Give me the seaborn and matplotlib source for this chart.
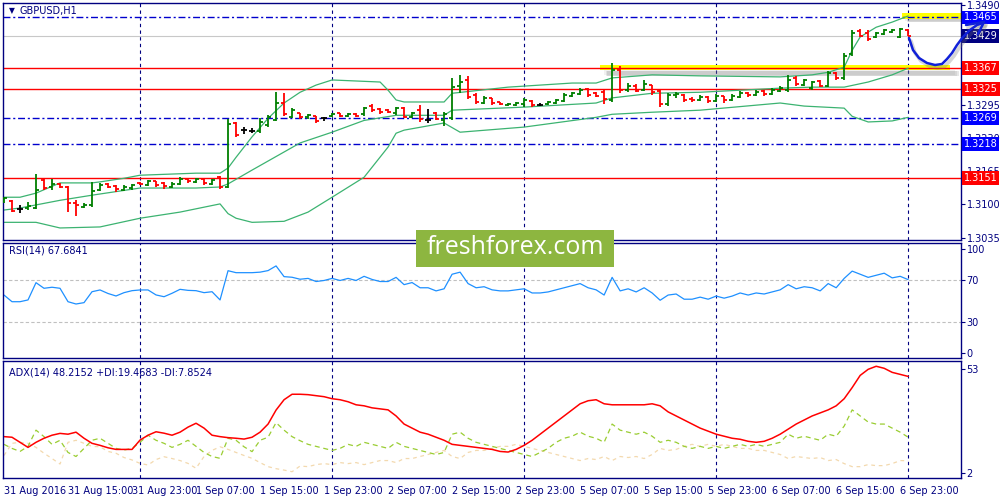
import numpy as np
import matplotlib
matplotlib.use("Agg")
import matplotlib.pyplot as plt
import seaborn as sns
from matplotlib.patches import Rectangle, FancyBboxPatch
from matplotlib.lines import Line2D

sns.set_style("white")
plt.rcParams['font.family'] = ['DejaVu Sans']

# hourly bars, 31 Aug 07:00 .. 7 Sep 00:00
x_labels = ['31 Aug 2016', '31 Aug 15:00', '31 Aug 23:00', '1 Sep 07:00', '1 Sep 15:00',
            '1 Sep 23:00', '2 Sep 07:00', '2 Sep 15:00', '2 Sep 23:00', '5 Sep 07:00',
            '5 Sep 15:00', '5 Sep 23:00', '6 Sep 07:00', '6 Sep 15:00', '6 Sep 23:00']
day_starts = [17, 41, 65, 89, 113]

opens = [1.3106, 1.3106, 1.3091, 1.3093, 1.3093, 1.3147, 1.3134, 1.3140, 1.3134, 1.3103,
         1.3095, 1.3099, 1.3128, 1.3140, 1.3136, 1.3128, 1.3132, 1.3142, 1.3138, 1.3146,
         1.3142, 1.3134, 1.3140, 1.3149, 1.3144, 1.3149, 1.3140, 1.3153, 1.3134, 1.3259,
         1.3245, 1.3243, 1.3243, 1.3255, 1.3264, 1.3298, 1.3270, 1.3278, 1.3270, 1.3272,
         1.3268, 1.3272, 1.3278, 1.3272, 1.3276, 1.3276, 1.3292, 1.3286, 1.3284, 1.3278,
         1.3288, 1.3270, 1.3284, 1.3264, 1.3278, 1.3264, 1.3268, 1.3331, 1.3343, 1.3313,
         1.3298, 1.3308, 1.3300, 1.3294, 1.3294, 1.3296, 1.3302, 1.3294, 1.3296, 1.3298,
         1.3302, 1.3311, 1.3315, 1.3325, 1.3317, 1.3319, 1.3304, 1.3362, 1.3323, 1.3331,
         1.3323, 1.3333, 1.3321, 1.3296, 1.3313, 1.3313, 1.3306, 1.3304, 1.3309, 1.3302,
         1.3311, 1.3304, 1.3309, 1.3317, 1.3313, 1.3321, 1.3315, 1.3321, 1.3323, 1.3347,
         1.3333, 1.3327, 1.3341, 1.3331, 1.3356, 1.3347, 1.3394, 1.3439, 1.3435, 1.3427,
         1.3433, 1.3437, 1.3427, 1.3440]
highs = [1.3114, 1.3108, 1.3099, 1.3104, 1.3159, 1.3149, 1.3149, 1.3142, 1.3136, 1.3108,
         1.3103, 1.3144, 1.3142, 1.3142, 1.3138, 1.3138, 1.3140, 1.3144, 1.3147, 1.3146,
         1.3144, 1.3144, 1.3153, 1.3151, 1.3151, 1.3151, 1.3149, 1.3155, 1.3266, 1.3261,
         1.3251, 1.3249, 1.3268, 1.3274, 1.3319, 1.3317, 1.3288, 1.3278, 1.3276, 1.3272,
         1.3270, 1.3278, 1.3278, 1.3278, 1.3278, 1.3290, 1.3296, 1.3288, 1.3286, 1.3290,
         1.3290, 1.3280, 1.3294, 1.3286, 1.3280, 1.3280, 1.3347, 1.3353, 1.3351, 1.3317,
         1.3311, 1.3308, 1.3300, 1.3298, 1.3300, 1.3308, 1.3304, 1.3298, 1.3302, 1.3306,
         1.3317, 1.3319, 1.3327, 1.3327, 1.3319, 1.3323, 1.3376, 1.3370, 1.3337, 1.3335,
         1.3343, 1.3333, 1.3325, 1.3317, 1.3319, 1.3315, 1.3309, 1.3313, 1.3311, 1.3315,
         1.3311, 1.3315, 1.3321, 1.3319, 1.3323, 1.3323, 1.3327, 1.3331, 1.3353, 1.3351,
         1.3345, 1.3341, 1.3343, 1.3360, 1.3358, 1.3396, 1.3440, 1.3442, 1.3440, 1.3437,
         1.3442, 1.3442, 1.3444, 1.3442]
lows = [1.3103, 1.3085, 1.3083, 1.3089, 1.3091, 1.3128, 1.3128, 1.3132, 1.3085, 1.3077,
        1.3093, 1.3095, 1.3126, 1.3132, 1.3124, 1.3126, 1.3128, 1.3138, 1.3136, 1.3134,
        1.3130, 1.3132, 1.3138, 1.3142, 1.3142, 1.3138, 1.3138, 1.3130, 1.3132, 1.3231,
        1.3237, 1.3239, 1.3239, 1.3251, 1.3263, 1.3272, 1.3268, 1.3266, 1.3266, 1.3259,
        1.3263, 1.3270, 1.3270, 1.3270, 1.3270, 1.3272, 1.3280, 1.3276, 1.3278, 1.3274,
        1.3268, 1.3268, 1.3261, 1.3259, 1.3264, 1.3253, 1.3264, 1.3317, 1.3306, 1.3296,
        1.3296, 1.3294, 1.3294, 1.3292, 1.3292, 1.3290, 1.3290, 1.3292, 1.3294, 1.3296,
        1.3300, 1.3309, 1.3313, 1.3309, 1.3309, 1.3296, 1.3300, 1.3317, 1.3319, 1.3319,
        1.3321, 1.3313, 1.3290, 1.3292, 1.3308, 1.3300, 1.3300, 1.3302, 1.3298, 1.3300,
        1.3298, 1.3302, 1.3308, 1.3309, 1.3311, 1.3311, 1.3313, 1.3319, 1.3319, 1.3331,
        1.3331, 1.3323, 1.3329, 1.3329, 1.3343, 1.3343, 1.3390, 1.3427, 1.3419, 1.3425,
        1.3431, 1.3435, 1.3425, 1.3429]
closes = [1.3112, 1.3087, 1.3091, 1.3097, 1.3128, 1.3132, 1.3140, 1.3134, 1.3103, 1.3099,
          1.3099, 1.3126, 1.3138, 1.3134, 1.3130, 1.3134, 1.3138, 1.3140, 1.3146, 1.3138,
          1.3136, 1.3140, 1.3149, 1.3146, 1.3149, 1.3142, 1.3147, 1.3134, 1.3257, 1.3235,
          1.3245, 1.3243, 1.3261, 1.3270, 1.3298, 1.3276, 1.3284, 1.3270, 1.3274, 1.3263,
          1.3268, 1.3276, 1.3272, 1.3276, 1.3272, 1.3288, 1.3284, 1.3280, 1.3280, 1.3288,
          1.3270, 1.3278, 1.3266, 1.3264, 1.3266, 1.3276, 1.3329, 1.3339, 1.3309, 1.3300,
          1.3308, 1.3298, 1.3296, 1.3296, 1.3298, 1.3304, 1.3294, 1.3294, 1.3300, 1.3304,
          1.3313, 1.3317, 1.3323, 1.3313, 1.3311, 1.3306, 1.3362, 1.3323, 1.3331, 1.3321,
          1.3335, 1.3319, 1.3296, 1.3313, 1.3315, 1.3304, 1.3304, 1.3309, 1.3302, 1.3311,
          1.3304, 1.3311, 1.3317, 1.3313, 1.3319, 1.3315, 1.3323, 1.3327, 1.3343, 1.3335,
          1.3343, 1.3339, 1.3331, 1.3356, 1.3347, 1.3390, 1.3435, 1.3429, 1.3423, 1.3435,
          1.3440, 1.3440, 1.3442, 1.3429]

# Bollinger bands read at a few bars
upper_idx = [0, 2, 4, 7, 11, 12, 15, 17, 24, 27, 28, 29, 31, 33, 35, 37, 39, 41, 47, 48,
             49, 50, 55, 56, 63, 71, 74, 76, 81, 87, 97, 101, 103, 105, 106, 107, 109, 111, 113]
upper_val = [1.3114, 1.3114, 1.3122, 1.3142, 1.3142, 1.3144, 1.3151, 1.3157, 1.3161, 1.3161,
             1.3171, 1.3192, 1.3232, 1.3268, 1.3298, 1.3319, 1.3333, 1.3343, 1.3339, 1.3323,
             1.3304, 1.3300, 1.3300, 1.3317, 1.3329, 1.3337, 1.3337, 1.3347, 1.3353, 1.3351,
             1.3349, 1.3353, 1.3358, 1.3368, 1.3401, 1.3427, 1.3446, 1.3456, 1.3468]
mid_idx = [0, 2, 4, 7, 11, 17, 24, 27, 28, 31, 37, 41, 45, 49, 55, 56, 65, 74, 76, 81,
           87, 97, 101, 105, 108, 111, 113]
mid_val = [1.3089, 1.3093, 1.3099, 1.3108, 1.3118, 1.3132, 1.3132, 1.3134, 1.3140, 1.3167,
           1.3220, 1.3241, 1.3264, 1.3274, 1.3274, 1.3284, 1.3290, 1.3298, 1.3308, 1.3317,
           1.3319, 1.3327, 1.3329, 1.3329, 1.3339, 1.3353, 1.3366]
lower_idx = [0, 4, 7, 12, 17, 22, 27, 28, 29, 31, 35, 38, 41, 45, 48, 49, 50, 55, 57, 65,
             74, 76, 81, 87, 97, 100, 105, 106, 108, 111, 113]
lower_val = [1.3065, 1.3065, 1.3054, 1.3056, 1.3073, 1.3085, 1.3101, 1.3082, 1.3073, 1.3065,
             1.3067, 1.3085, 1.3114, 1.3153, 1.3212, 1.3239, 1.3245, 1.3259, 1.3241, 1.3251,
             1.3270, 1.3276, 1.3280, 1.3284, 1.3298, 1.3292, 1.3288, 1.3272, 1.3261, 1.3263,
             1.3270]

rsi = [56, 49.6, 49.6, 51.3, 67.9, 62.5, 63.5, 62.5, 49.6, 47.4,
       48.7, 59.2, 60.9, 57.5, 55.1, 58.3, 60.2, 60.9, 60.9, 56.1,
       54.4, 57.7, 61.5, 60.5, 60.2, 58.3, 59.2, 51.3, 79.4, 77.5,
       77.5, 77.5, 78, 79.5, 84, 73.7, 73.1, 71.2, 72, 69,
       70, 72, 70, 72, 70, 74, 71, 69, 69, 73,
       66, 68, 63, 63, 60, 62, 76, 78, 67, 63,
       64, 61, 60, 60, 61, 62, 58, 58, 59, 61,
       63, 65, 67, 63, 61, 56, 73, 60, 62, 59,
       63, 58, 51, 56, 57, 52, 52, 54, 52, 55,
       53, 55, 58, 56, 58, 57, 59, 61, 66, 62,
       64, 63, 60, 67, 63, 72, 79, 76, 73, 75,
       77, 72.5, 74, 70.8]
adx = [19.8, 19.5, 17, 14.5, 17, 19, 20.5, 21.4, 21, 22,
       19, 16.5, 15.5, 14.3, 13.5, 13.5, 13.5, 18.1, 20.5, 22.2,
       21.5, 20.5, 22, 24.5, 26.4, 24, 20.5, 19.8, 19.3, 19,
       18.6, 19.5, 22, 26, 32.9, 38, 40.7, 40.7, 40.5, 40,
       39.5, 38.5, 38, 37, 35.5, 35, 34, 33.5, 33, 30,
       26, 24, 22, 21, 19.5, 18, 16, 15.5, 15, 14.5,
       14, 13.5, 12.5, 12.2, 13.5, 15.5, 18, 21, 24, 27,
       30, 33, 36, 37.5, 38, 36, 35.5, 35.5, 35.5, 35.5,
       35.5, 36, 35, 32, 30, 28, 26, 24, 22.5, 21,
       20, 19, 18.5, 17.5, 17, 17.5, 19, 21, 23.5, 26,
       28, 30, 31.5, 33, 35, 38.5, 44, 50, 53, 54.5,
       53.5, 51.5, 50.5, 49.5]
plus_di = [16, 14, 12.5, 15, 23, 19.8, 16, 18, 12, 10,
           14, 18, 19, 16.5, 14, 13.2, 14, 17, 20.5, 18,
           16.5, 14.5, 16, 18, 15, 12, 10, 9.1, 19, 18,
           14.8, 12.4, 18, 19.5, 26.7, 23, 19.8, 17.8, 16, 15,
           14, 13, 14, 16, 15, 17, 16, 15, 14, 17,
           15, 14, 13, 12, 11, 12, 21, 22, 19, 17,
           16, 15, 14, 13, 12, 11, 10, 12, 14, 17,
           19, 20, 22, 20, 19, 17, 26, 23, 22, 21,
           22, 20, 17, 18, 17, 15, 14, 15, 14, 15,
           14, 15, 16, 15, 16, 15, 16, 17, 21, 19,
           20, 19, 18, 21, 20, 25, 33, 30, 27, 26,
           26, 24, 22, 19.5]
minus_di = [10.5, 16.5, 17, 16.5, 14.5, 11.6, 9, 6.3, 17, 18,
            16.5, 15, 14.8, 12.5, 11.6, 9.5, 8.3, 6.6, 5.8, 8.5,
            9.9, 9, 8, 6.6, 4.2, 10, 13, 14.8, 13.5, 12,
            10.5, 9.1, 7, 5, 4, 3.3, 2.5, 5.3, 5, 6,
            6.5, 6, 7, 6.5, 7, 6, 7, 8, 8, 7,
            9, 9, 10, 11, 12, 13, 10, 9, 12, 13,
            13, 14, 15, 15, 16, 15, 14, 13, 12, 11,
            10, 9, 8, 9, 8.5, 10, 8, 10, 9.5, 10,
            9, 11, 14, 13, 13.5, 15, 16, 15, 16, 15,
            16, 15, 14, 14, 13, 13, 12, 11, 9, 10,
            9.5, 9, 9.5, 8, 8.5, 6.5, 5, 5, 6, 5.5,
            5.5, 6.5, 8, 7.9]

red_levels = [1.3367, 1.3325, 1.3151]
blue_levels = [1.3465, 1.3269, 1.3218]
bid = 1.3429
price_ticks = [1.3490, 1.3425, 1.3360, 1.3295, 1.3230, 1.3165, 1.3100, 1.3035]
# labels that sit fully under a price tag are not shown
hidden_ticks = [1.3425, 1.3360]

NAVY = '#000080'
bars = np.arange(len(opens))

fig = plt.figure(figsize=(10, 5), dpi=100)
ax1 = fig.add_axes([0.003, 0.52, 0.958, 0.474])
ax2 = fig.add_axes([0.003, 0.284, 0.958, 0.231])
ax3 = fig.add_axes([0.003, 0.044, 0.958, 0.234])

for ax in (ax1, ax2, ax3):
    ax.set_xlim(-0.125, 119.6)
    for s in ax.spines.values():
        s.set_color(NAVY)
        s.set_linewidth(1)
    ax.yaxis.tick_right()
    ax.tick_params(axis='y', colors=NAVY, labelsize=7, length=3, width=0.8, pad=1)
    ax.set_xticks([])
    for d in day_starts:
        ax.axvline(d, color=NAVY, lw=0.8, ls=(0, (3, 3)), zorder=1)

# ---- price panel
ax1.set_ylim(1.30305, 1.34933)
ax1.set_yticks(price_ticks)
ax1.set_yticklabels(['' if p in hidden_ticks else f'{p:.4f}' for p in price_ticks])

# highlight bars drawn by hand on the chart (soft shadow + yellow)
for k, a in enumerate([0.10, 0.14, 0.18]):
    ax1.add_patch(Rectangle((75.0 + 0.2 * k, 1.33525 - 0.00008 * k), 43.9, 0.0009,
                            fc='#777777', alpha=a, ec='none', zorder=1))
    ax1.add_patch(Rectangle((112.6 + 0.2 * k, 1.34575 - 0.00008 * k), 6.9, 0.0009,
                            fc='#777777', alpha=a, ec='none', zorder=1, clip_on=False))
ax1.add_patch(Rectangle((74.5, 1.3362), 43.75, 0.0010, fc='#FFFF00', ec='none', zorder=1.5))
ax1.add_patch(Rectangle((112.25, 1.3463), 7.35, 0.0011, fc='#FFFF00', ec='none', zorder=1.5, clip_on=False))

ax1.axhline(bid, color='#C8C8C8', lw=0.8, zorder=1.6)
for lv in red_levels:
    ax1.axhline(lv, color='#FF0000', lw=1, zorder=1.7)
for lv in blue_levels:
    ax1.axhline(lv, color='#0000CD', lw=1, ls=(0, (5, 2, 1.5, 2)), zorder=1.7)

sns.lineplot(x=upper_idx, y=upper_val, ax=ax1, color='#3CB371', lw=0.9)
sns.lineplot(x=mid_idx, y=mid_val, ax=ax1, color='#3CB371', lw=0.9)
sns.lineplot(x=lower_idx, y=lower_val, ax=ax1, color='#3CB371', lw=0.9)

# OHLC bars
cols = ['#007F00' if c > o else ('#FF0000' if c < o else '#000000') for o, c in zip(opens, closes)]
ax1.vlines(bars, lows, highs, colors=cols, lw=1.3, zorder=3)
ax1.hlines(opens, bars - 0.4, bars, colors=cols, lw=1.3, zorder=3)
ax1.hlines(closes, bars, bars + 0.4, colors=cols, lw=1.3, zorder=3)

ax1.text(0.006, 0.968, '\u25BC', transform=ax1.transAxes, fontsize=5.5, color=NAVY, va='center')
ax1.text(0.017, 0.968, 'GBPUSD,H1', transform=ax1.transAxes, fontsize=7, color=NAVY, va='center')


def price_tag(ax, price, color):
    ax.text(1.0028, price, f'{price:.4f}', transform=ax.get_yaxis_transform(), color='white',
            fontsize=7, va='center', ha='left', clip_on=False, zorder=6,
            bbox=dict(boxstyle='square,pad=0.2', fc=color, ec='none'))


for lv in red_levels:
    price_tag(ax1, lv, '#FF0000')
for lv in blue_levels:
    price_tag(ax1, lv, '#0000FF')
price_tag(ax1, bid, '#000080')

# ---- RSI panel
ax2.set_ylim(-4.5, 106.5)
ax2.set_yticks([100, 70, 30, 0])
for lv in (70, 30):
    ax2.axhline(lv, color='#C0C0C0', lw=0.8, ls=(0, (3, 2)), zorder=1)
sns.lineplot(x=bars, y=rsi, ax=ax2, color='#1E90FF', lw=0.9)
ax2.text(0.006, 0.935, 'RSI(14) 67.6841', transform=ax2.transAxes, fontsize=7, color=NAVY, va='center')

# ---- ADX panel
ax3.set_ylim(-0.6, 57.1)
ax3.set_yticks([53, 2])
sns.lineplot(x=bars, y=minus_di, ax=ax3, color='#F3D9AE', lw=0.9, linestyle=(0, (3, 3)))
sns.lineplot(x=bars, y=plus_di, ax=ax3, color='#9ACD32', lw=0.9, linestyle=(0, (4, 3)))
sns.lineplot(x=bars, y=adx, ax=ax3, color='#FF0000', lw=1.1)
ax3.text(0.006, 0.905, 'ADX(14) 48.2152 +DI:19.4683 -DI:7.8524', transform=ax3.transAxes,
         fontsize=7, color=NAVY, va='center')
ax3.set_xticks(bars[::8])
ax3.set_xticklabels(x_labels, ha='left')
ax3.tick_params(axis='x', colors=NAVY, labelsize=7, length=4, width=0.8, pad=1.5)

for ax in (ax1, ax2, ax3):
    ax.set_xlabel('')
    ax.set_ylabel('')

# hand drawn forecast curve with shadow
cx = [909, 913, 919, 927, 935, 942, 947, 952, 957, 963, 970, 977, 983]
cy = [38, 50, 58, 63, 65, 64, 59, 53, 45, 37, 30, 25, 23]
for dx, dy, col, w, a in [(2, 3, '#777777', 2.6, 0.3), (0, 0, '#1020D8', 1.8, 1.0)]:
    fig.add_artist(Line2D([(x + dx) / 1000 for x in cx], [1 - (y + dy) / 500 for y in cy],
                          color=col, lw=w, alpha=a, solid_capstyle='round', zorder=20))
    fig.add_artist(Line2D([(966 + dx) / 1000, (984 + dx) / 1000, (978 + dx) / 1000],
                          [1 - (25 + dy) / 500, 1 - (22 + dy) / 500, 1 - (34 + dy) / 500],
                          color=col, lw=w, alpha=a, solid_capstyle='round',
                          solid_joinstyle='round', zorder=20))

# logo
fig.add_artist(FancyBboxPatch((0.416, 0.466), 0.198, 0.074, boxstyle='square,pad=0',
                              transform=fig.transFigure, fc='#8DB640', ec='none', zorder=30))
fig.text(0.515, 0.504, 'freshforex.com', color='white', fontsize=18, ha='center', va='center',
         family='Open Sans', zorder=31)

fig.savefig('out.png', dpi=100)
